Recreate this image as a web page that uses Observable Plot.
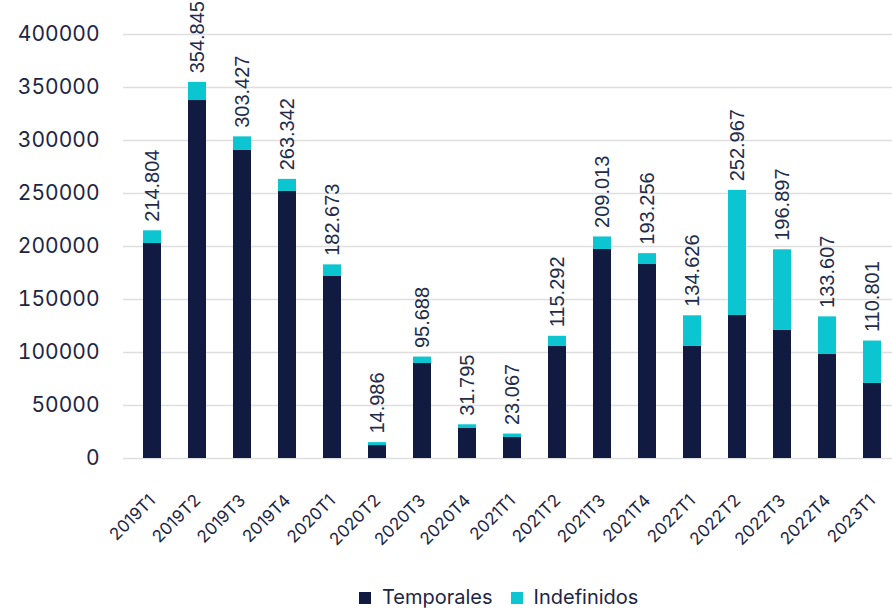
<!DOCTYPE html>
<html>
<head>
<meta charset="utf-8">
<script src="https://cdn.jsdelivr.net/npm/d3@7"></script>
<script src="https://cdn.jsdelivr.net/npm/@observablehq/plot@0.6"></script>
<style>
  html, body { margin: 0; padding: 0; background: #fff; width: 892px; height: 608px; overflow: hidden; }
  #chart { position: absolute; left: 0; top: 0; }
  #legend { position: absolute; left: 359px; top: 587px; height: 21px; line-height: 21px; display: flex; align-items: center;
            font-family: Inter, "Noto Sans", sans-serif; font-size: 20px; color: #1d2545; white-space: nowrap; }
  #legend .item { display: flex; align-items: center; }
  #legend .sw { width: 12px; height: 12px; margin-right: 11px; }
  #legend .item + .item { margin-left: 18px; }
</style>
</head>
<body>
<div id="chart"></div>
<div id="legend"></div>
<script>
const periods = ["2019T1","2019T2","2019T3","2019T4","2020T1","2020T2","2020T3","2020T4","2021T1","2021T2","2021T3","2021T4","2022T1","2022T2","2022T3","2022T4","2023T1"];
const temporales = [202800, 337700, 290600, 251900, 171700, 12200, 89600, 28300, 19800, 105700, 197200, 183000, 105700, 134900, 120800, 98100, 70800];
const indefinidos = [12004, 17145, 12827, 11442, 10973, 2786, 6088, 3495, 3267, 9592, 11813, 10256, 28926, 118067, 76097, 35507, 40001];
const totals = [214804, 354845, 303427, 263342, 182673, 14986, 95688, 31795, 23067, 115292, 209013, 193256, 134626, 252967, 196897, 133607, 110801];
const totalLabels = ["214.804","354.845","303.427","263.342","182.673","14.986","95.688","31.795","23.067","115.292","209.013","193.256","134.626","252.967","196.897","133.607","110.801"];
const yTicks = [0, 50000, 100000, 150000, 200000, 250000, 300000, 350000, 400000];
const seriesNames = ["Temporales", "Indefinidos"];
const seriesColors = ["#111a40", "#0bc6d0"];

const rows = [];
periods.forEach((p, i) => {
  rows.push({period: p, serie: seriesNames[0], value: temporales[i]});
  rows.push({period: p, serie: seriesNames[1], value: indefinidos[i]});
});
const labelRows = periods.map((p, i) => ({period: p, total: totals[i], label: totalLabels[i]}));

const chart = Plot.plot({
  width: 892,
  height: 580,
  marginLeft: 123,
  marginRight: 0,
  marginTop: 34,
  marginBottom: 122,
  style: { fontFamily: "Inter, 'Noto Sans', sans-serif", color: "#1d2545", background: "#fff", overflow: "visible" },
  x: { type: "band", domain: periods, range: [123, 901], paddingInner: 0.6, paddingOuter: 0.3, axis: null },
  y: { domain: [0, 400000], axis: null },
  color: { domain: seriesNames, range: seriesColors },
  marks: [
    Plot.ruleY(yTicks, { stroke: "#dedede", strokeWidth: 1.5 }),
    Plot.axisY({ ticks: yTicks, tickSize: 0, tickPadding: 24, fontSize: 21, tickFormat: d => String(d), label: null }),
    Plot.barY(rows, Plot.stackY({ x: "period", y: "value", fill: "serie", order: seriesNames })),
    Plot.text(labelRows, { x: "period", y: "total", text: "label", rotate: -90, textAnchor: "start", dy: -9,
      fontSize: 20, fontFamily: "'Liberation Sans', Arial, sans-serif", fill: "#232b4a" }),
    Plot.text(periods, { x: d => d, frameAnchor: "bottom", text: d => d, rotate: -45, textAnchor: "end",
      dx: 4, dy: 43, fontSize: 17, fill: "#1d2545" })
  ]
});
document.getElementById("chart").appendChild(chart);

const legend = document.getElementById("legend");
seriesNames.forEach((name, i) => {
  const item = document.createElement("div");
  item.className = "item";
  const sw = document.createElement("span");
  sw.className = "sw";
  sw.style.background = seriesColors[i];
  const label = document.createElement("span");
  label.textContent = name;
  item.appendChild(sw);
  item.appendChild(label);
  legend.appendChild(item);
});
</script>
</body>
</html>
